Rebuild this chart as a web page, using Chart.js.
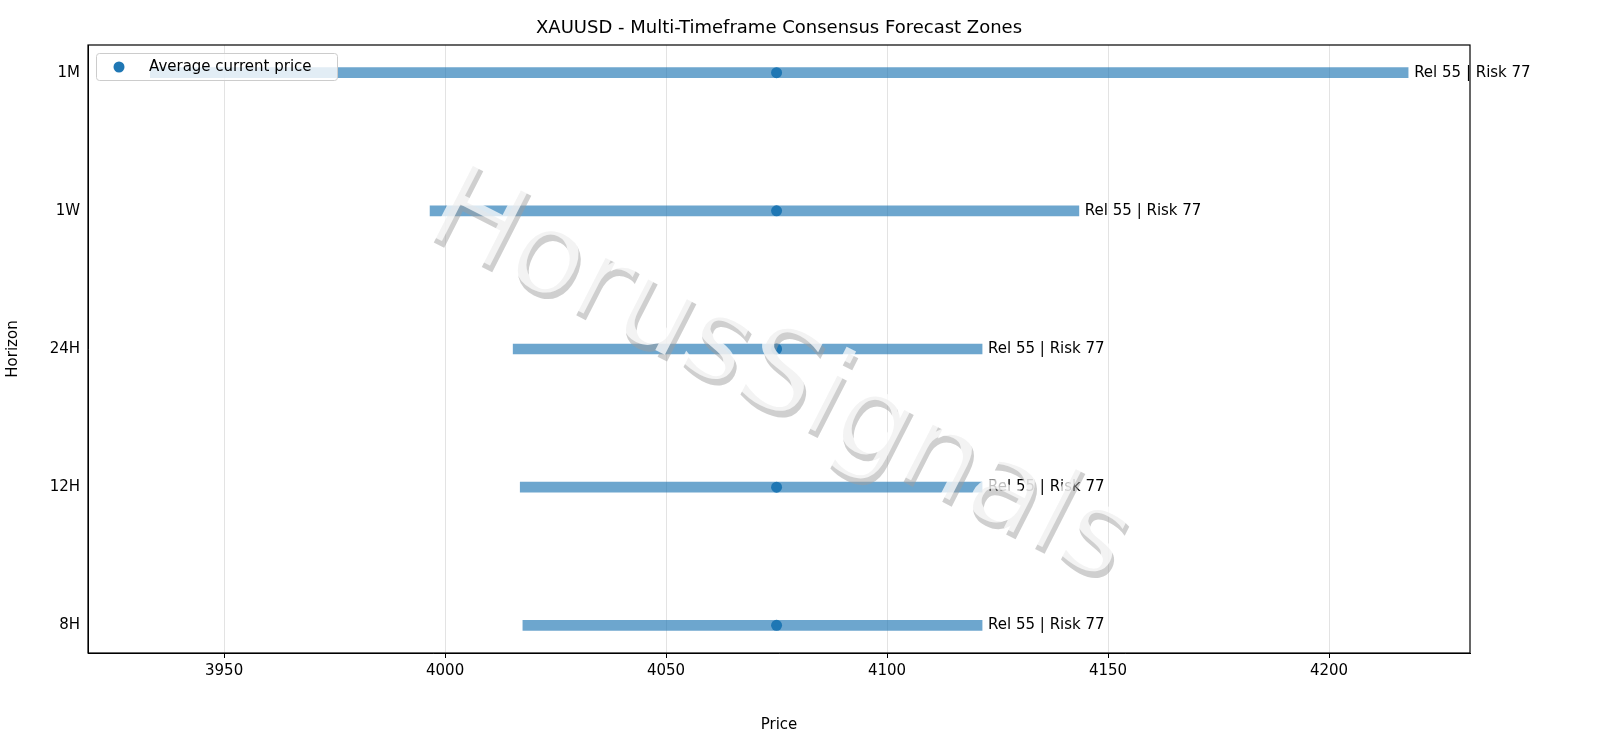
<!DOCTYPE html>
<html><head><meta charset="utf-8">
<script src="https://cdn.jsdelivr.net/npm/chart.js@4"></script>
<style>html,body{margin:0;padding:0;background:#fff}#c{display:block}</style>
</head><body>
<canvas id="c" width="1600" height="738"></canvas>
<script>
const horizons = ['1M','1W','24H','12H','8H'];
const lows = [3933.3, 3996.6, 4015.4, 4017.0, 4017.6];
const highs = [4217.9, 4143.4, 4121.5, 4121.5, 4121.5];
const currentPrice = [4075, 4075, 4075, 4075, 4075];
const notes = ['Rel 55 | Risk 77','Rel 55 | Risk 77','Rel 55 | Risk 77','Rel 55 | Risk 77','Rel 55 | Risk 77'];
const xTicks = [3950, 4000, 4050, 4100, 4150, 4200];
const FONT = 'DejaVu Sans';

const overlay = {
  id: 'overlay',
  afterDatasetsDraw(chart) {
    const {ctx, chartArea: a, scales: {x, y}} = chart;
    ctx.save();
    ctx.font = '15px "' + FONT + '"';
    ctx.fillStyle = '#000';
    ctx.textBaseline = 'middle';
    horizons.forEach((h, i) => {
      ctx.fillText(notes[i], x.getPixelForValue(highs[i]) + 6, y.getPixelForValue(i));
    });
    ctx.save();
    ctx.beginPath(); ctx.rect(a.left, a.top, a.right - a.left, a.bottom - a.top); ctx.clip();
    ctx.translate(778, 378);
    ctx.rotate(27 * Math.PI / 180);
    ctx.font = '118px "' + FONT + '"';
    ctx.textAlign = 'center'; ctx.textBaseline = 'middle';
    ctx.fillStyle = 'rgba(160,160,160,0.5)';
    ctx.fillText('HorusSignals', 5, 5);
    ctx.fillStyle = 'rgba(255,255,255,0.75)';
    ctx.fillText('HorusSignals', 0, 0);
    ctx.restore();
    ctx.fillStyle = 'rgba(255,255,255,0.8)';
    ctx.strokeStyle = '#ccc'; ctx.lineWidth = 1;
    ctx.beginPath(); ctx.roundRect(96.5, 53.5, 241, 27, 3); ctx.fill(); ctx.stroke();
    ctx.fillStyle = '#1f77b4';
    ctx.beginPath(); ctx.arc(119, 67, 5.5, 0, Math.PI * 2); ctx.fill();
    ctx.fillStyle = '#000'; ctx.textAlign = 'left'; ctx.textBaseline = 'middle';
    ctx.font = '15px "' + FONT + '"';
    ctx.fillText('Average current price', 149, 67);
    ctx.textAlign = 'center';
    ctx.font = '18px "' + FONT + '"';
    ctx.fillText('XAUUSD - Multi-Timeframe Consensus Forecast Zones', (a.left + a.right) / 2, 28);
    ctx.strokeStyle = '#000'; ctx.lineWidth = 1.2;
    ctx.strokeRect(a.left, a.top, a.right - a.left, a.bottom - a.top);
    ctx.restore();
  }
};

new Chart(document.getElementById('c'), {
  data: {
    datasets: [
      { type: 'bar', label: 'zone', data: horizons.map((h, i) => ({x: [lows[i], highs[i]], y: i})),
        backgroundColor: 'rgba(31,119,180,0.65)', barThickness: 10, borderSkipped: false, order: 2 },
      { type: 'line', label: 'Average current price', data: horizons.map((h, i) => ({x: currentPrice[i], y: i})),
        showLine: false, pointRadius: 5.5, pointBackgroundColor: '#1f77b4', pointBorderWidth: 0, order: 1 }
    ]
  },
  options: {
    responsive: false, animation: false, indexAxis: 'y',
    layout: {padding: {left: 0, right: 130, top: 45, bottom: 0}},
    plugins: {legend: {display: false}, tooltip: {enabled: false}, title: {display: false}},
    scales: {
      x: { type: 'linear', min: 3919.2, max: 4231.9, offset: false,
        afterBuildTicks(s) { s.ticks = xTicks.map(v => ({value: v})); },
        afterFit(s) { s.height = 85; },
        grid: {color: '#e3e3e3', drawTicks: true, tickLength: 5, tickColor: '#000', offset: false},
        border: {color: '#000'},
        ticks: {color: '#000', font: {family: FONT, size: 15}, padding: 4, callback: (v) => String(v)},
        title: {display: true, text: 'Price', color: '#000', font: {family: FONT, size: 15}, padding: {top: 2}} },
      y: { type: 'linear', min: -0.2, max: 4.2, reverse: true, offset: false,
        afterBuildTicks(s) { s.ticks = horizons.map((h, i) => ({value: i})); },
        afterFit(s) { s.width = 88; },
        grid: {display: false, drawTicks: true, tickLength: 5, tickColor: '#000', offset: false},
        border: {color: '#000'},
        ticks: {color: '#000', font: {family: FONT, size: 15}, callback: (v) => horizons[v]},
        title: {display: true, text: 'Horizon', color: '#000', font: {family: FONT, size: 15}} }
    }
  },
  plugins: [overlay]
});
</script>
</body></html>
